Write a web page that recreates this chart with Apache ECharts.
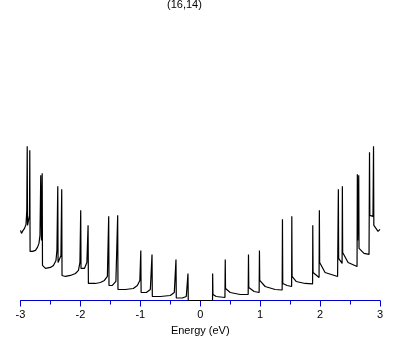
<!DOCTYPE html>
<html>
<head>
<meta charset="utf-8">
<script src="https://cdn.jsdelivr.net/npm/echarts@6/dist/echarts.min.js"></script>
<style>html,body{margin:0;padding:0;background:#fff}#c{width:409px;height:345px}</style>
</head>
<body>
<div id="c"></div>
<script>
// Energy (eV)
var energy = [
-3.000,-2.983,-2.967,-2.933,-2.908,-2.895,-2.888,-2.883,-2.858,-2.850,-2.845,-2.840,
-2.800,-2.750,-2.717,-2.692,-2.675,-2.662,-2.650,-2.643,-2.638,-2.633,-2.583,-2.500,
-2.450,-2.408,-2.392,-2.378,-2.373,-2.350,-2.325,-2.312,-2.307,-2.250,-2.167,-2.083,
-2.033,-2.008,-1.995,-1.990,-1.933,-1.892,-1.872,-1.867,-1.750,-1.667,-1.600,-1.550,
-1.528,-1.523,-1.467,-1.408,-1.378,-1.373,-1.250,-1.117,-1.050,-1.008,-0.992,-0.987,
-0.900,-0.833,-0.805,-0.800,-0.667,-0.500,-0.433,-0.405,-0.400,-0.300,-0.233,-0.205,
-0.200,
0.205,0.207,0.212,0.267,0.412,0.417,0.422,0.500,0.667,0.800,0.805,0.810,0.900,0.983,
0.988,0.993,1.083,1.250,1.367,1.372,1.377,1.450,1.525,1.528,1.533,1.600,1.750,1.875,
1.878,1.883,1.983,1.988,1.993,2.083,2.292,2.305,2.310,2.367,2.372,2.377,2.467,2.617,
2.622,2.627,2.645,2.650,2.733,2.817,2.825,2.830,2.883,2.892,2.897,2.933,2.967,3.000
];
// Density of states (arbitrary units)
var dos = [
70,67,69,72,76,90,154,75,74,85,150,49,
49,50,53,57,65,125,60,75,127,35,32,33,
35,40,50,114,38,38,45,111,25,24,25,27,
30,38,90,32,32,38,75,17,17,18,20,24,
84,15,15,19,85,11,11,12,15,20,50,8,
8,11,46,4,4,5,8,41,2.5,2.5,4,27,
0,
0,27,6,4,3,41,12,8,6,6,46,13,9,8,
50,20,14,11,10.5,81,17,15,14,84,24,19,17,16.5,
75,28,23,90,38,28,24,111,42,37,114,48,38,34,
126,60,125,52,47,46,148,85,84,154,75,72,69,71
];
var xTicks = [-3,-2,-1,0,1,2,3];
var title = '(16,14)';
var xName = 'Energy (eV)';

var pts = energy.map(function(e,i){return [e,dos[i]];});
var chart = echarts.init(document.getElementById('c'), null, {renderer:'canvas'});
chart.setOption({
  animation:false,
  backgroundColor:'#fff',
  title:{text:title,left:167,top:-1,padding:0,textStyle:{fontSize:11,fontWeight:'normal',color:'#000',fontFamily:'sans-serif'}},
  grid:{left:20.5,right:29,top:0,bottom:44.5},
  xAxis:{type:'value',min:xTicks[0],max:xTicks[xTicks.length-1],interval:1,
    name:xName,nameLocation:'middle',nameGap:25,
    nameTextStyle:{fontSize:11,color:'#000',fontFamily:'sans-serif'},
    axisLine:{lineStyle:{color:'#0000cc',width:1}},
    axisTick:{show:true,length:6,lineStyle:{color:'#0000cc'}},
    minorTick:{show:true,splitNumber:2,length:4,lineStyle:{color:'#0000cc'}},
    splitLine:{show:false},
    axisLabel:{fontSize:11,color:'#000',margin:9,fontFamily:'sans-serif'}},
  yAxis:{type:'value',min:0,max:300,show:false},
  series:[{type:'line',data:pts,showSymbol:false,symbol:'none',
    lineStyle:{color:'#000',width:1.2},z:1}]
});
</script>
</body>
</html>
